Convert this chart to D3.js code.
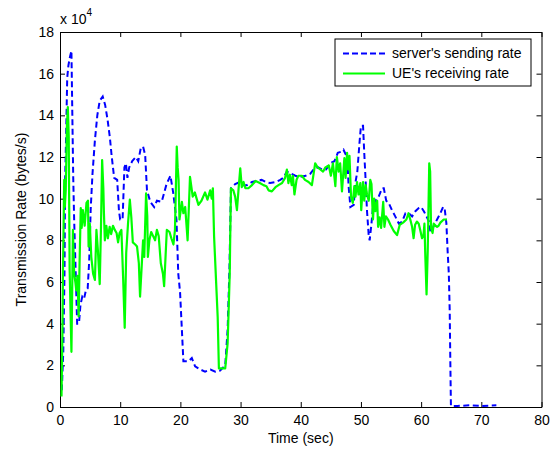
<!DOCTYPE html>
<html>
<head>
<meta charset="utf-8">
<script src="https://cdn.jsdelivr.net/npm/d3@7"></script>
<style>
  html, body { margin: 0; padding: 0; background: #fff; }
  svg { display: block; }
  text { font-family: "Liberation Sans", Arial, sans-serif; fill: #000; }
</style>
</head>
<body>
<svg id="chart" width="550" height="449"></svg>
<script>
// Server sending rate (x 10^4 bytes/s) against time (sec)
const sendTime = [0.3,0.55,0.75,0.85,1.0,1.2,1.4,1.65,1.9,2.05,2.2,2.35,2.6,2.85,3.15,3.4,3.7,4.0,4.3,4.6,4.85,5.1,5.4,5.8,6.2,6.6,7.1,7.5,7.9,8.3,8.6,9.0,9.5,9.8,10.0,10.4,10.7,10.95,11.2,11.5,12.0,12.6,13.0,13.4,13.8,14.15,14.45,15.0,15.65,16.1,16.9,17.7,18.35,18.8,19.35,19.65,19.95,20.2,20.5,21.35,21.9,22.45,23.3,24.1,25.0,25.8,26.6,27.45,27.85,28.15,28.4,29.1,29.9,30.5,31.05,31.9,32.7,33.5,34.2,34.9,35.8,36.6,37.1,37.7,38.4,39.1,39.9,40.8,41.6,42.25,42.9,43.55,44.2,44.9,45.6,46.15,46.7,47.1,47.5,47.8,47.95,48.25,48.8,49.1,49.4,49.75,50.0,50.35,50.55,50.8,51.0,51.3,51.45,51.75,52.0,52.4,52.95,53.5,53.8,54.2,54.6,55.15,55.7,56.3,56.85,57.4,57.95,58.5,59.05,59.6,60.0,60.45,60.9,61.3,61.55,61.8,62.1,62.65,63.2,63.65,63.9,64.2,64.4,64.6,64.75,64.85,64.95,66.0,68.0,70.0,72.5];
const sendRate = [0.8,2.7,6.5,10.9,12.8,15.8,16.4,16.8,17.1,14.0,11.0,9.0,6.5,4.0,4.0,4.9,5.3,5.2,5.6,5.7,7.0,9.5,11.2,12.8,14.0,14.7,14.9,14.5,13.8,12.9,12.0,11.0,10.9,9.4,9.0,9.0,11.5,11.7,11.0,11.5,11.8,12.0,11.8,12.4,12.5,12.1,10.4,9.85,9.6,9.9,9.85,10.7,11.1,10.3,9.0,6.4,5.5,4.0,2.2,2.2,2.35,1.95,1.8,1.7,1.8,1.7,1.75,2.0,3.7,6.6,10.5,10.7,10.8,10.65,10.65,10.8,10.85,10.9,10.8,10.75,10.8,10.9,11.0,11.3,11.2,11.1,11.05,11.1,11.2,11.45,11.5,11.4,11.4,11.7,11.8,12.2,12.25,12.35,12.1,11.55,10.6,9.6,9.7,10.8,11.3,12.65,13.5,13.5,12.2,10.75,9.45,8.2,8.0,8.8,9.6,9.9,10.1,10.5,10.5,9.9,9.8,9.45,9.15,8.8,8.9,9.3,9.3,9.15,9.4,9.55,9.6,9.4,9.15,8.9,8.4,8.5,8.7,9.0,9.3,9.6,9.55,8.8,7.5,6.4,4.6,2.2,0.05,0.05,0.08,0.05,0.08];

// UE receiving rate (x 10^4 bytes/s) against time (sec)
const recvTime = [0.25,0.4,0.5,0.7,0.8,0.95,1.15,1.3,1.45,1.6,1.9,2.15,2.35,2.55,2.7,2.9,3.1,3.25,3.45,3.6,3.8,4.1,4.4,4.65,4.75,4.95,5.2,5.5,5.8,6.05,6.3,6.6,6.8,7.0,7.2,7.3,7.45,7.7,7.95,8.25,8.5,8.8,9.1,9.4,9.65,9.9,10.2,10.5,10.75,11.0,11.3,11.6,11.85,12.1,12.5,12.8,13.1,13.3,13.6,13.8,14.0,14.3,14.5,14.6,14.85,15.15,15.4,15.8,16.1,16.4,16.75,17.1,17.3,17.75,18.2,18.5,18.85,19.1,19.4,19.55,19.7,19.85,20.25,20.5,20.8,21.2,21.6,22.05,22.4,23.0,23.5,24.1,24.5,24.95,25.2,25.4,25.6,26.0,26.2,26.4,27.45,27.85,28.2,28.4,28.8,29.1,29.4,29.65,29.95,30.2,30.5,30.8,31.3,31.9,32.5,33.2,33.8,34.3,34.65,35.2,35.8,36.3,36.9,37.4,37.7,37.95,38.2,38.5,38.7,38.95,39.3,39.6,40.2,40.7,41.3,41.85,42.4,42.8,43.25,43.7,44.1,44.65,45.0,45.35,45.75,46.0,46.3,46.55,46.85,47.25,47.45,47.7,47.9,48.1,48.35,48.65,48.9,49.1,49.35,49.6,49.9,50.05,50.35,50.55,50.8,51.0,51.3,51.55,51.75,52.0,52.2,52.4,52.7,52.85,53.1,53.35,53.7,53.9,54.15,54.5,54.9,55.45,56.0,56.45,57.0,57.55,57.9,58.2,58.5,58.75,59.0,59.3,59.6,59.85,60.15,60.4,60.55,60.7,60.9,61.1,61.35,61.5,61.65,61.9,62.1,62.4,62.65,62.9,63.2,63.75,64.3];
const recvRate = [0.5,3.5,6.6,10.9,9.6,10.4,13.5,14.4,13.0,6.6,2.65,8.5,6.4,6.0,5.6,6.3,4.35,6.9,9.55,8.6,9.45,8.7,9.8,9.9,7.7,8.8,7.2,6.4,6.1,8.5,7.5,5.9,8.5,11.85,10.5,9.3,8.0,8.7,8.1,8.65,8.3,8.7,8.5,8.35,7.9,8.35,8.5,6.1,3.8,7.4,8.8,9.95,9.1,7.9,7.8,7.7,6.9,5.3,6.9,8.0,7.2,10.25,9.15,7.2,8.0,8.4,8.25,8.0,8.5,8.2,6.9,6.4,5.8,8.5,8.4,8.1,7.8,8.5,12.5,11.5,10.9,9.0,9.85,9.3,9.6,8.0,11.05,10.1,10.3,9.7,9.9,10.3,9.95,10.4,10.0,10.5,8.2,5.6,4.3,1.85,1.85,3.05,6.4,10.5,10.4,10.1,9.45,10.4,11.45,10.55,10.8,10.5,10.5,10.65,10.85,10.75,10.65,10.6,10.4,10.35,10.55,10.65,10.75,11.0,11.4,10.75,11.15,10.65,11.1,10.2,10.9,11.1,11.1,10.9,10.8,10.65,11.7,11.5,11.4,11.3,11.5,11.6,11.1,11.7,10.6,12.0,11.3,11.7,10.35,11.95,11.0,12.2,11.4,12.05,10.1,9.8,10.6,10.1,10.8,10.2,10.75,9.45,10.8,9.9,10.65,10.2,9.9,10.9,10.7,9.0,10.0,9.4,9.9,8.65,9.1,8.6,9.85,8.65,9.15,9.0,8.75,8.45,8.25,8.75,8.85,9.0,9.3,9.0,8.65,8.1,8.75,8.9,8.8,8.5,8.1,8.25,8.8,7.2,5.4,7.55,11.7,11.3,8.6,8.35,8.8,8.7,8.65,8.7,8.85,9.0,9.0];

const xTicks = [0, 10, 20, 30, 40, 50, 60, 70, 80];
const yTicks = [0, 2, 4, 6, 8, 10, 12, 14, 16, 18];
const seriesNames = ["server's sending rate", "UE's receiving rate"];
const seriesColors = ["#0000ff", "#00ff00"];

const svg = d3.select("#chart");
const box = { left: 60, right: 541.5, top: 32, bottom: 407 };

const x = d3.scaleLinear().domain([0, 80]).range([box.left, box.right]);
const y = d3.scaleLinear().domain([0, 18]).range([box.bottom, box.top]);

// axes: ticks point inward on all four sides
const fontSize = "14px";
svg.append("g")
  .attr("transform", `translate(0,${box.bottom})`)
  .call(d3.axisBottom(x).tickValues(xTicks).tickSize(-5).tickSizeOuter(0).tickPadding(8))
  .call(g => g.selectAll("text").style("font-size", fontSize));
svg.append("g")
  .attr("transform", `translate(${box.left},0)`)
  .call(d3.axisLeft(y).tickValues(yTicks).tickSize(-5).tickSizeOuter(0).tickPadding(6))
  .call(g => g.selectAll("text").style("font-size", fontSize));
svg.append("g")
  .attr("transform", `translate(0,${box.top})`)
  .call(d3.axisTop(x).tickValues(xTicks).tickSize(-5).tickSizeOuter(0).tickFormat(""));
svg.append("g")
  .attr("transform", `translate(${box.right},0)`)
  .call(d3.axisRight(y).tickValues(yTicks).tickSize(-5).tickSizeOuter(0).tickFormat(""));
svg.selectAll(".domain, .tick line").attr("stroke", "#000").attr("stroke-width", 1);

const line = d3.line().x(d => x(d[0])).y(d => y(d[1]));
const sendPts = sendTime.map((t, i) => [t, sendRate[i]]);
const recvPts = recvTime.map((t, i) => [t, recvRate[i]]);

svg.append("path").datum(sendPts)
  .attr("d", line).attr("fill", "none")
  .attr("stroke", seriesColors[0]).attr("stroke-width", 2)
  .attr("stroke-dasharray", "6,3.5");
svg.append("path").datum(recvPts)
  .attr("d", line).attr("fill", "none")
  .attr("stroke", seriesColors[1]).attr("stroke-width", 2.2)
  .attr("stroke-linejoin", "round");

// exponent note above the y axis
const expo = svg.append("text").attr("x", box.left).attr("y", 24).style("font-size", fontSize);
expo.append("tspan").text("x 10");
expo.append("tspan").attr("dy", -8).style("font-size", "10px").text("4");

// axis titles
svg.append("text")
  .attr("x", (box.left + box.right) / 2).attr("y", 443)
  .attr("text-anchor", "middle").style("font-size", fontSize)
  .text("Time (sec)");
svg.append("text")
  .attr("transform", `translate(26,${(box.top + box.bottom) / 2}) rotate(-90)`)
  .attr("text-anchor", "middle").style("font-size", fontSize)
  .text("Transmission Rate (bytes/s)");

// legend
const lg = svg.append("g").attr("transform", "translate(335,39)");
lg.append("rect").attr("width", 196).attr("height", 47)
  .attr("fill", "#fff").attr("stroke", "#000").attr("stroke-width", 1);
seriesNames.forEach((name, i) => {
  const cy = 14.5 + i * 20;
  lg.append("line").attr("x1", 8).attr("x2", 50).attr("y1", cy).attr("y2", cy)
    .attr("stroke", seriesColors[i]).attr("stroke-width", 2)
    .attr("stroke-dasharray", i === 0 ? "6,3" : null);
  lg.append("text").attr("x", 57).attr("y", cy).attr("dy", "0.35em")
    .style("font-size", fontSize).text(name);
});
</script>
</body>
</html>
